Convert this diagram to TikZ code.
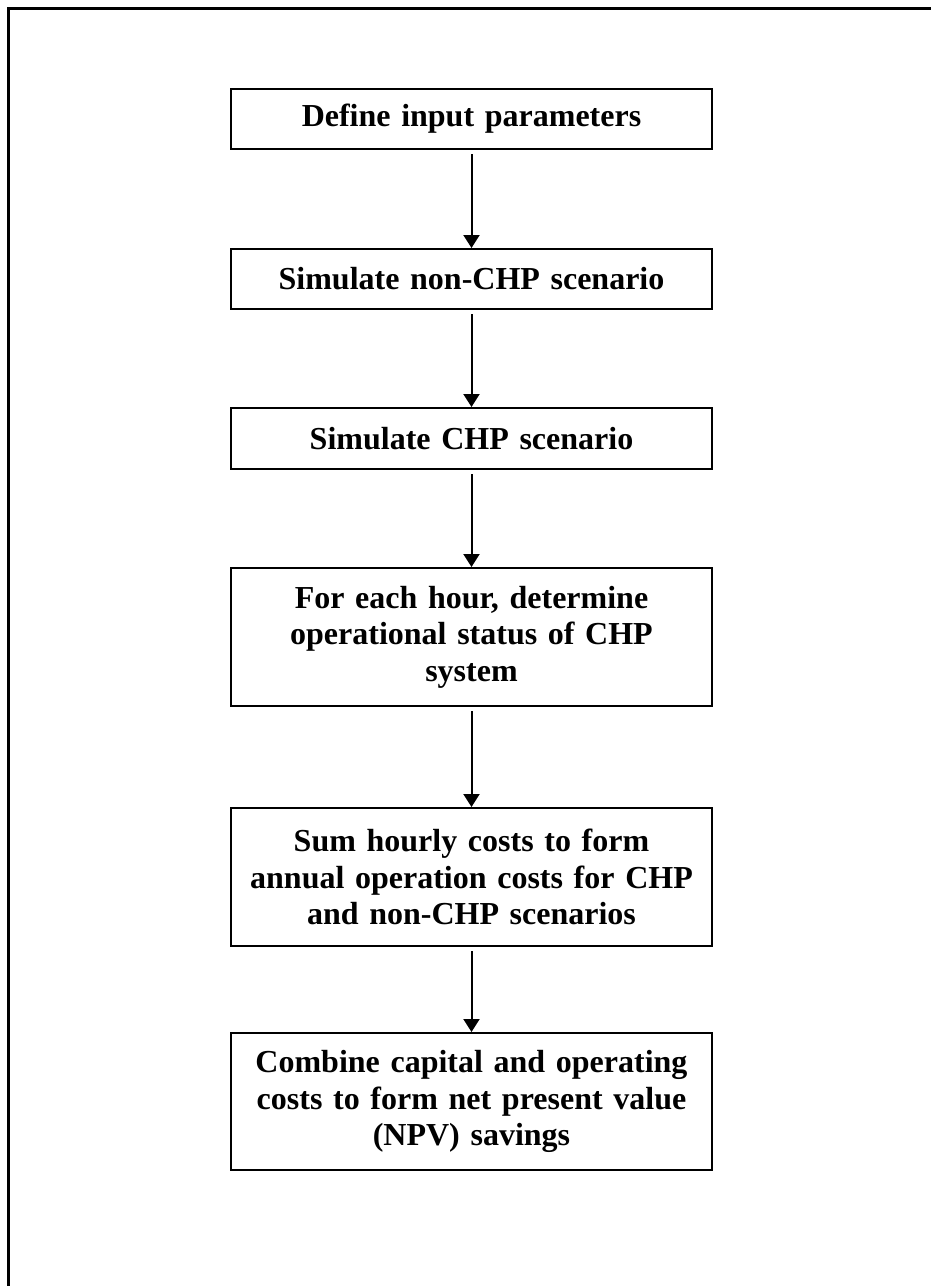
\documentclass[tikz,border=0pt]{standalone}
\usepackage{fontspec}
\setmainfont{Liberation Serif}
\usetikzlibrary{arrows.meta}
\newcommand{\boxfont}{\fontsize{32}{36.6}\selectfont\bfseries\fontdimen2\font=6pt\fontdimen3\font=0pt\fontdimen4\font=0pt}
\begin{document}
\begin{tikzpicture}[x=1pt,y=-1pt,
  stepbox/.style={draw=black, line width=2pt, minimum width=481pt, inner sep=0pt,
    text width=470pt, align=center, font=\boxfont},
  flow/.style={line width=2pt, -{Triangle[width=16pt,length=13pt]}, shorten <=4pt}]
\useasboundingbox (0,0) rectangle (931,1286);
\fill[white] (0,0) rectangle (931,1286);
\draw[line width=3pt] (8.5,1290) -- (8.5,8.5) -- (935,8.5);
\node[stepbox, minimum height=60pt] (s1) at (471.5,119) {Define input parameters};
\node[stepbox, minimum height=60pt] (s2) at (471.5,279) {Simulate non-CHP scenario};
\node[stepbox, minimum height=61pt] (s3) at (471.5,438.5) {Simulate CHP scenario};
\node[stepbox, minimum height=138pt] (s4) at (471.5,637) {For each hour, determine\\operational status of CHP\\system};
\node[stepbox, minimum height=138pt] (s5) at (471.5,877) {Sum hourly costs to form\\annual operation costs for CHP\\and non-CHP scenarios};
\node[stepbox, minimum height=137pt] (s6) at (471.5,1101.5) {Combine capital and operating\\costs to form net present value\\(NPV) savings};
\draw[flow] (s1.south) -- (s2.north);
\draw[flow] (s2.south) -- (s3.north);
\draw[flow] (s3.south) -- (s4.north);
\draw[flow] (s4.south) -- (s5.north);
\draw[flow] (s5.south) -- (s6.north);
\end{tikzpicture}
\end{document}
